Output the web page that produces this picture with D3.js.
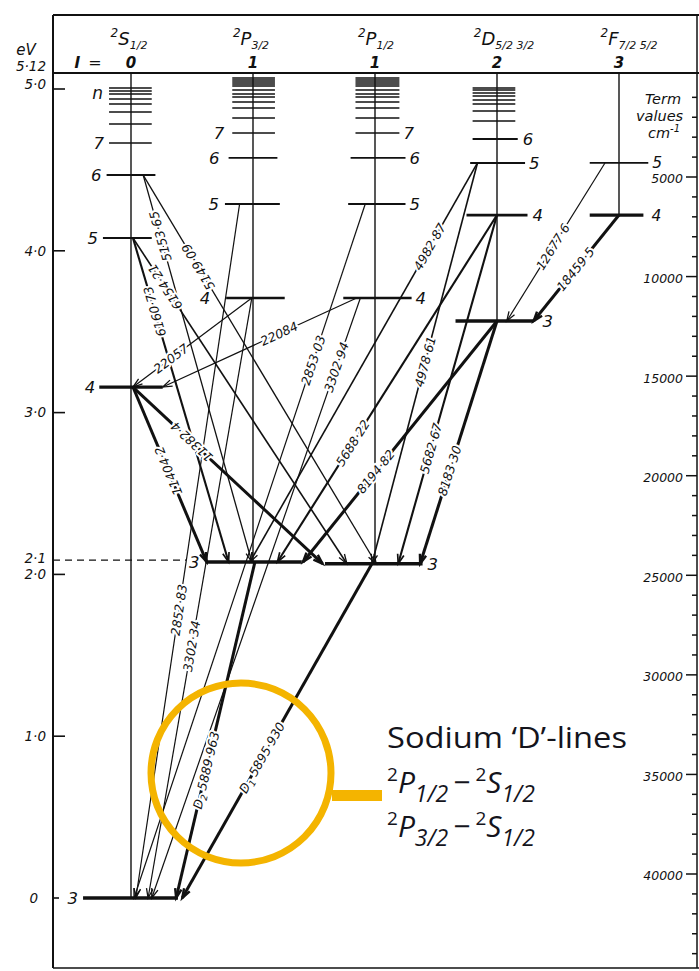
<!DOCTYPE html>
<html><head><meta charset="utf-8">
<script src="https://d3js.org/d3.v7.min.js"></script>
<style>
html,body{margin:0;padding:0;background:#fff;}
svg{display:block;}
.hw{font-family:"DejaVu Sans",sans-serif;font-style:italic;fill:#111;}
.lg{font-family:"Open Sans",sans-serif;fill:#14141c;}
</style></head><body>
<svg id="chart" width="699" height="971"></svg>
<script>
// ================= DATA =================
const termKeys = ["S","P32","P12","D","F"];
const termLetters = ["S","P","P","D","F"];
const termJ = ["1/2","3/2","1/2","5/2 3/2","7/2 5/2"];
const lValues = ["0","1","1","2","3"];
const nStart = {S:3, P32:3, P12:3, D:3, F:4};
// level energies (eV), n = nStart, nStart+1, ...
const sLevels   = [0, 3.158, 4.079, 4.468, 4.666, 4.784, 4.858, 4.907, 4.938, 4.969, 4.988, 5.006];
const p32Levels = [2.077, 3.708, 4.289, 4.574, 4.728, 4.821, 4.883, 4.920, 4.950, 4.969, 4.994, 5.019, 5.031, 5.043, 5.056, 5.068];
const p12Levels = [2.066, 3.708, 4.289, 4.574, 4.728, 4.821, 4.883, 4.920, 4.950, 4.969, 4.994, 5.019, 5.031, 5.043, 5.056, 5.068];
const dLevels   = [3.566, 4.221, 4.543, 4.691, 4.802, 4.864, 4.907, 4.932, 4.957, 4.975, 4.994, 5.006];
const fLevels   = [4.221, 4.543];
const labelledN = {S:[3,4,5,6,7], P32:[3,4,5,6,7], P12:[3,4,5,6,7], D:[3,4,5,6], F:[4,5]};
const eVTicks = [0, 1, 2, 3, 4, 5];
const eVTickLabels = ["0", "1·0", "2·0", "3·0", "4·0", "5·0"];
const eVRef = 2.1, eVRefLabel = "2·1";
const eVTop = "5·12";
const termTicks = [5000, 10000, 15000, 20000, 25000, 30000, 35000, 40000, 45000];
const termTickLabels = ["5000","10000","15000","20000","25000","30000","35000","40000","45000"];
// transitions: label (prefix, wavelength), upper term, upper n, lower term, lower n, intensity class
const transPrefix = [["D","2"],["D","1"],null,null,null,null,null,null,null,null,null,null,null,null,null,null,null,null,null,null,null,null];
const transLabels = ["5889·963","5895·930","3302·34","3302·94","2852·83","2853·03","22057","22084",
  "11404·2","11382·4","6160·73","6154·21","5153·65","5149·09","8194·82","8183·30","5688·22","5682·67",
  "4982·87","4978·61","12677·6","18459·5"];
const transUpper = [["P32",3],["P12",3],["P32",4],["P12",4],["P32",5],["P12",5],["P32",4],["P12",4],
  ["S",4],["S",4],["S",5],["S",5],["S",6],["S",6],["D",3],["D",3],["D",4],["D",4],["D",5],["D",5],["F",5],["F",4]];
const transLower = [["S",3],["S",3],["S",3],["S",3],["S",3],["S",3],["S",4],["S",4],
  ["P32",3],["P12",3],["P32",3],["P12",3],["P32",3],["P12",3],["P32",3],["P12",3],["P32",3],["P12",3],
  ["P32",3],["P12",3],["D",3],["D",3]];
const transIntensity = [3,3,1,1,1,1,1,1, 3,3,2,1.5,1.2,1.2, 3,3,2,2, 1.5,1.5,1,3];
const legendTitle = "Sodium ‘D’-lines";
const legendRows = [["1/2","1/2"],["3/2","1/2"]];

// ================= LAYOUT =================
// attachment offsets along levels (column units) and label position (fraction from upper end)
const transLayout = [
  [0.016,0.37,0.62],[-0.025,0.42,0.58],[-0.01,0.14,0.58],[-0.12,0.17,0.115],[-0.11,0.04,0.585],[-0.08,0.025,0.225],
  [-0.01,0.016,0.68],[-0.15,0.26,0.40],[0.016,-0.38,0.48],[0.016,-0.43,0.31],[0.016,-0.2,0.227],[0.016,-0.23,0.15],
  [0.1,-0.01,0.158],[0.1,0.01,0.236],[0,0.41,0.625],[0,0.37,0.617],[0,0.2,0.657],[0,0.19,0.669],
  [-0.16,-0.025,0.21],[-0.16,-0.025,0.496],[-0.115,0.08,0.53],[0,0.3,0.51]];
const levelSpan = {
  S:  [[-0.393,0.385],[-0.26,0.26],[-0.23,0.17],[-0.20,0.20],[-0.18,0.17]],
  P32:[[-0.39,0.40],[-0.22,0.26],[-0.23,0.22],[-0.20,0.20],[-0.17,0.18]],
  P12:[[-0.41,0.39],[-0.26,0.30],[-0.22,0.25],[-0.20,0.25],[-0.16,0.20]],
  D:  [[-0.34,0.30],[-0.25,0.25],[-0.22,0.23],[-0.20,0.17],[-0.20,0.15]],
  F:  [[-0.24,0.20],[-0.24,0.24]]
};
const labelGap = {S:[5,4,5,5,5],P32:[6,16,6,9,8],P12:[5,4,4,4,4],D:[9,5,4,5,5],F:[8,4]};
const levelWidth = {S:[3.5,3.2,2,2,1.6],P32:[3.5,2.6,2,1.8,1.5],P12:[3.5,2.6,2,1.8,1.5],D:[3.5,2.8,2,1.8,1.5],F:[3.2,1.8]};
const labelSide = {S:"left",P32:"left",P12:"right",D:"right",F:"right"};

// ================= DRAW =================
const svg = d3.select("#chart");
const W = 699, H = 971;
const frameL = 53, frameT = 15, frameB = 968, headerY = 73, axisR = 697;
const y = d3.scaleLinear().domain([0,5]).range([898,89]);
const x = d3.scaleLinear().domain([0,4]).range([131,619]);
const yT = d3.scaleLinear().domain([5000,40000]).range([177,874]);
const levelsOf = {S:sLevels, P32:p32Levels, P12:p12Levels, D:dLevels, F:fLevels};
const colOf = k => termKeys.indexOf(k);
const unit = x(1) - x(0);
const levelY = (k,n) => y(levelsOf[k][n - nStart[k]]);
const ink = "#111";

// frame
svg.append("line").attr("x1",frameL).attr("x2",W).attr("y1",frameT).attr("y2",frameT).attr("stroke",ink).attr("stroke-width",2.2);
svg.append("line").attr("x1",frameL).attr("x2",frameL).attr("y1",frameT).attr("y2",frameB).attr("stroke",ink).attr("stroke-width",2);
svg.append("line").attr("x1",frameL).attr("x2",W).attr("y1",frameB).attr("y2",frameB).attr("stroke",ink).attr("stroke-width",1.5);
svg.append("line").attr("x1",frameL).attr("x2",W).attr("y1",headerY).attr("y2",headerY).attr("stroke",ink).attr("stroke-width",2);
svg.append("line").attr("x1",axisR).attr("x2",axisR).attr("y1",frameT).attr("y2",frameB).attr("stroke",ink).attr("stroke-width",1.5);

// eV axis
const gL = svg.append("g");
eVTicks.forEach((v,i)=>{
  const yy = y(v);
  gL.append("line").attr("x1",frameL).attr("x2",frameL+(v===0?6:12)).attr("y1",yy).attr("y2",yy).attr("stroke",ink).attr("stroke-width",1.6);
  gL.append("text").attr("class","hw").attr("x",v===0?38:46).attr("y",v===5?yy-5:yy).attr("dy","0.35em")
    .attr("text-anchor","end").attr("font-size",13.5).text(eVTickLabels[i]);
});
gL.append("text").attr("class","hw").attr("x",46).attr("y",y(eVRef)).attr("dy","0.35em").attr("text-anchor","end").attr("font-size",13.5).text(eVRefLabel);
gL.append("line").attr("x1",frameL).attr("x2",186).attr("y1",y(eVRef)+2).attr("y2",y(eVRef)+2)
  .attr("stroke",ink).attr("stroke-width",1.2).attr("stroke-dasharray","7,5");
gL.append("text").attr("class","hw").attr("x",46).attr("y",headerY-7).attr("dy","0.35em").attr("text-anchor","end").attr("font-size",13.5).text(eVTop);
gL.append("text").attr("class","hw").attr("x",26).attr("y",55).attr("text-anchor","middle").attr("font-size",15).text("eV");

// term-value axis
const gR = svg.append("g");
d3.range(1000,46000,1000).forEach(v=>{
  const major = v % 5000 === 0;
  gR.append("line").attr("x1",axisR-(major?11:5)).attr("x2",axisR).attr("y1",yT(v)).attr("y2",yT(v)).attr("stroke",ink).attr("stroke-width",1.5);
});
termTicks.forEach((v,i)=>{
  gR.append("text").attr("class","hw").attr("x",683).attr("y",yT(v)+2).attr("dy","0.35em").attr("text-anchor","end").attr("font-size",12.5).text(termTickLabels[i]);
});
const tv = gR.append("text").attr("class","hw").attr("font-size",14.5);
tv.append("tspan").attr("x",645).attr("y",104).text("Term");
tv.append("tspan").attr("x",636).attr("y",121).text("values");
tv.append("tspan").attr("x",648).attr("y",138).text("cm");
tv.append("tspan").attr("font-size",10).attr("dy",-6).text("-1");

// header
const gH = svg.append("g");
const hdrX = [129,251,376,504,629];
termKeys.forEach((k,i)=>{
  const t = gH.append("text").attr("class","hw").attr("x",hdrX[i]).attr("y",45).attr("text-anchor","middle").attr("font-size",18);
  t.append("tspan").attr("font-size",12).attr("dy",-8).text("2");
  t.append("tspan").attr("dy",8).text(termLetters[i]);
  t.append("tspan").attr("font-size",11).attr("dy",4).text(termJ[i]);
  gH.append("text").attr("class","hw").attr("x",x(i)).attr("y",68).attr("text-anchor","middle")
    .attr("font-size",15).attr("font-weight","bold").text(lValues[i]);
});
gH.append("text").attr("class","hw").attr("x",77).attr("y",68).attr("text-anchor","middle").attr("font-size",16).attr("font-weight","bold").text("l");
gH.append("text").attr("class","hw").attr("x",95).attr("y",68).attr("text-anchor","middle").attr("font-size",16).text("=");

// column vertical lines
const gC = svg.append("g");
termKeys.forEach(k=>{
  const lv = levelsOf[k];
  gC.append("line").attr("x1",x(colOf(k))).attr("x2",x(colOf(k))).attr("y1",headerY).attr("y2",y(lv[0]))
    .attr("stroke",ink).attr("stroke-width",1.4);
});

// levels
const gLev = svg.append("g");
termKeys.forEach(k=>{
  const lv = levelsOf[k], c = x(colOf(k)), spans = levelSpan[k], widths = levelWidth[k];
  lv.forEach((e,i)=>{
    const r = Math.min(i, spans.length-1);
    const x1 = c + spans[r][0]*unit, x2 = c + spans[r][1]*unit, yy = y(e);
    gLev.append("line").attr("x1",x1).attr("x2",x2).attr("y1",yy).attr("y2",yy)
      .attr("stroke",ink).attr("stroke-width",widths[Math.min(i,widths.length-1)]);
    const n = nStart[k] + i;
    if (labelledN[k].includes(n)) {
      const left = labelSide[k] === "left", gap = labelGap[k][r];
      gLev.append("text").attr("class","hw").attr("x", left ? x1-gap : x2+gap).attr("y",k==="F"&&i===1?yy-1:yy).attr("dy","0.36em")
        .attr("text-anchor", left ? "end" : "start").attr("font-size",k==="F"?15.5:16.5).text(n);
    }
  });
});
gLev.append("text").attr("class","hw").attr("x",103).attr("y",99).attr("text-anchor","end").attr("font-size",17).text("n");

// transitions
const gT = svg.append("g"), gTL = svg.append("g");
transLabels.forEach((lab,i)=>{
  const [uk,un] = transUpper[i], [lk,ln] = transLower[i], [uo,lo,t] = transLayout[i];
  const x1 = x(colOf(uk)+uo), y1 = levelY(uk,un), x2 = x(colOf(lk)+lo), y2 = levelY(lk,ln);
  const sw = {1:1.2,1.2:1.3,1.5:1.6,2:2.1,3:3}[transIntensity[i]];
  gT.append("line").attr("x1",x1).attr("y1",y1).attr("x2",x2).attr("y2",y2).attr("stroke",ink).attr("stroke-width",sw);
  const a = Math.atan2(y2-y1,x2-x1), len = 10, half = 0.33;
  const p1 = [x2-len*Math.cos(a-half), y2-len*Math.sin(a-half)], p2 = [x2-len*Math.cos(a+half), y2-len*Math.sin(a+half)];
  gT.append("path").attr("d",`M${p1}L${x2},${y2}L${p2}`).attr("fill","none").attr("stroke",ink).attr("stroke-width",Math.max(1.3,sw*0.8));
  const lx = x1 + t*(x2-x1), ly = y1 + t*(y2-y1);
  const ang = Math.atan2(y1-y2, x1-x2) * 180/Math.PI;
  const tx = gTL.append("text").attr("class","hw").attr("font-size",12.5).attr("text-anchor","middle").attr("dy","0.36em")
    .attr("transform",`translate(${lx},${ly}) rotate(${ang})`)
    .attr("stroke","#fff").attr("stroke-width",4).attr("paint-order","stroke").attr("stroke-linejoin","round");
  const pre = transPrefix[i];
  if (pre) {
    tx.append("tspan").text(pre[0]);
    tx.append("tspan").attr("font-size",9).attr("dy",3).text(pre[1]);
    tx.append("tspan").attr("dy",-3).attr("dx",4).text(lab);
  } else tx.text(lab);
});

// highlight + legend
const gold = "#F4B400";
svg.append("circle").attr("cx",241).attr("cy",773).attr("r",90).attr("fill","none").attr("stroke",gold).attr("stroke-width",7);
svg.append("rect").attr("x",332).attr("y",790).attr("width",50).attr("height",11).attr("fill",gold);
const gLg = svg.append("g");
gLg.append("text").attr("class","lg").attr("x",387).attr("y",748).attr("font-size",30)
  .attr("textLength",240).attr("lengthAdjust","spacingAndGlyphs").text(legendTitle);
legendRows.forEach((r,i)=>{
  const t = gLg.append("text").attr("class","lg").attr("x",387).attr("y",793+44*i).attr("font-size",30);
  t.append("tspan").attr("font-size",19).attr("dy",-12).text("2");
  t.append("tspan").attr("dy",12).attr("font-style","italic").text("P");
  t.append("tspan").attr("font-size",23).attr("dy",9).attr("font-style","italic").text(r[0]);
  t.append("tspan").attr("dy",-9).attr("dx",5).text("−");
  t.append("tspan").attr("font-size",19).attr("dy",-12).attr("dx",5).text("2");
  t.append("tspan").attr("dy",12).attr("font-style","italic").text("S");
  t.append("tspan").attr("font-size",23).attr("dy",9).attr("font-style","italic").text(r[1]);
});
</script></body></html>
